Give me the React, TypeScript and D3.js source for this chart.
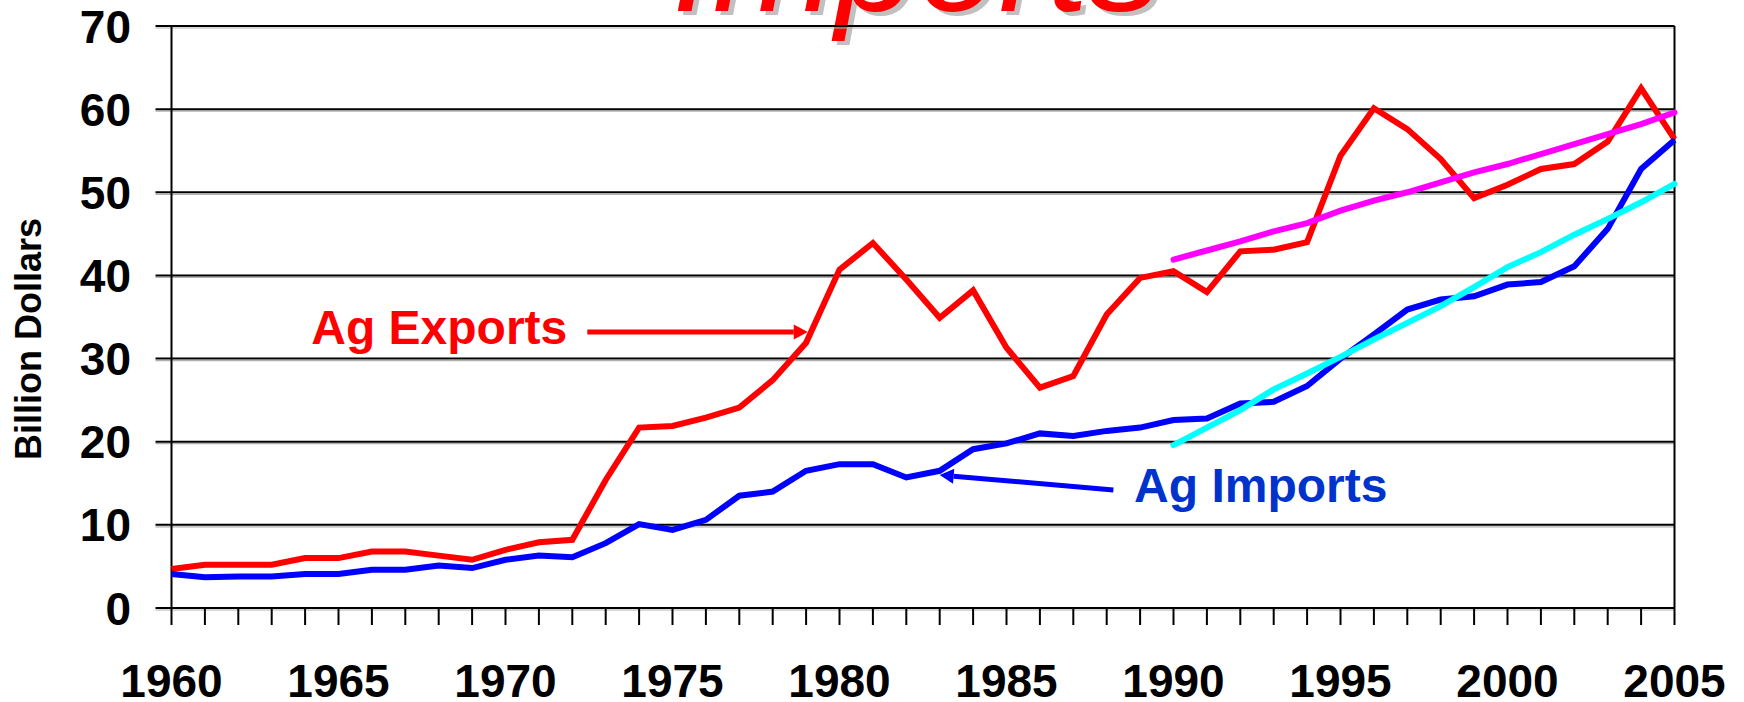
import React, { useEffect, useRef } from 'react'
import { select, scaleLinear, line } from 'd3'

// years on the x axis
const years = [
  1960, 1961, 1962, 1963, 1964, 1965, 1966, 1967, 1968, 1969,
  1970, 1971, 1972, 1973, 1974, 1975, 1976, 1977, 1978, 1979,
  1980, 1981, 1982, 1983, 1984, 1985, 1986, 1987, 1988, 1989,
  1990, 1991, 1992, 1993, 1994, 1995, 1996, 1997, 1998, 1999,
  2000, 2001, 2002, 2003, 2004, 2005,
]
const yearLabels = [1960, 1965, 1970, 1975, 1980, 1985, 1990, 1995, 2000, 2005]
const valueTicks = [0, 10, 20, 30, 40, 50, 60, 70]

// billion dollars
const agExports = [
  4.7, 5.2, 5.2, 5.2, 6.0, 6.0, 6.8, 6.8, 6.3, 5.8,
  7.0, 7.9, 8.2, 15.4, 21.7, 21.9, 22.9, 24.1, 27.4, 31.9,
  40.7, 43.9, 39.5, 34.9, 38.2, 31.3, 26.5, 27.9, 35.3, 39.7,
  40.5, 38.0, 42.9, 43.1, 44.0, 54.4, 60.1, 57.6, 54.0, 49.3,
  50.9, 52.8, 53.4, 56.1, 62.5, 56.4,
]
const agImports = [
  4.1, 3.7, 3.8, 3.8, 4.1, 4.1, 4.6, 4.6, 5.1, 4.8,
  5.8, 6.3, 6.1, 7.8, 10.1, 9.4, 10.6, 13.5, 14.0, 16.5,
  17.3, 17.3, 15.7, 16.5, 19.1, 19.8, 21.0, 20.7, 21.3, 21.7,
  22.6, 22.8, 24.6, 24.8, 26.7, 30.0, 32.9, 35.9, 37.1, 37.5,
  38.9, 39.2, 41.1, 45.6, 52.8, 56.3,
]

// trend lines, 1990-2005
const trendYears = [1990, 1991, 1992, 1993, 1994, 1995, 1996, 1997, 1998, 1999, 2000, 2001, 2002, 2003, 2004, 2005]
const exportTrend = [41.9, 43.0, 44.1, 45.3, 46.3, 47.8, 49.0, 50.0, 51.2, 52.4, 53.4, 54.6, 55.8, 57.0, 58.2, 59.6]
const importTrend = [19.6, 21.7, 23.8, 26.3, 28.2, 30.2, 32.3, 34.3, 36.3, 38.6, 41.0, 42.8, 44.9, 46.8, 48.8, 51.0]

// callouts: label anchor, arrow tail, arrow tip (year, value)
const exportNote = { text: 'Ag Exports', label: [1971.85, 31.7], tail: [1972.45, 33.2], tip: [1979.05, 33.2] }
const importNote = { text: 'Ag Imports', label: [1988.82, 12.75], tail: [1988.2, 14.2], tip: [1983.0, 16.0] }

const W = 1744
const H = 702
const FONT = "'Liberation Sans', Arial, Helvetica, sans-serif"

const App = () => {
  const svgRef = useRef(null)

  useEffect(() => {
    const svg = select(svgRef.current)
    svg.selectAll('*').remove()

    const x = scaleLinear().domain([1960, 2005]).range([171.5, 1674.5])
    const y = scaleLinear().domain([0, 70]).range([608, 26])
    const x0 = x(1960)
    const x1 = x(2005)

    // title (only the bottom of it shows)
    const title = svg.append('g')
    title.append('text')
      .attr('x', 677).attr('y', 15)
      .attr('fill', '#c0c0c0')
      .style('font', `italic 147px ${FONT}`)
      .text('Imports')
    title.append('text')
      .attr('x', 672).attr('y', 11)
      .attr('fill', '#ff0000')
      .style('font', `italic 147px ${FONT}`)
      .text('Imports')

    // grid
    const grid = svg.append('g')
    valueTicks.forEach(v => {
      grid.append('line')
        .attr('x1', x0 - 16).attr('x2', x1)
        .attr('y1', y(v) + 2).attr('y2', y(v) + 2)
        .attr('stroke', '#b0b0b0').attr('stroke-width', 1.2)
      grid.append('line')
        .attr('x1', x0 - 16).attr('x2', x1)
        .attr('y1', y(v)).attr('y2', y(v))
        .attr('stroke', '#000').attr('stroke-width', 2)
      grid.append('text')
        .attr('x', 131).attr('y', y(v) + 16.5)
        .attr('text-anchor', 'end')
        .style('font', `bold 46px ${FONT}`)
        .text(v)
    })

    // axes + frame
    grid.append('line')
      .attr('x1', x0).attr('x2', x0).attr('y1', y(70)).attr('y2', y(0))
      .attr('stroke', '#000').attr('stroke-width', 2)
    grid.append('line')
      .attr('x1', x1).attr('x2', x1).attr('y1', y(70)).attr('y2', y(0))
      .attr('stroke', '#000').attr('stroke-width', 2)
    years.forEach(yr => {
      grid.append('line')
        .attr('x1', x(yr)).attr('x2', x(yr)).attr('y1', y(0)).attr('y2', y(0) + 17)
        .attr('stroke', '#000').attr('stroke-width', 2)
    })
    yearLabels.forEach(yr => {
      grid.append('text')
        .attr('x', x(yr)).attr('y', 697)
        .attr('text-anchor', 'middle')
        .style('font', `bold 46px ${FONT}`)
        .text(yr)
    })

    svg.append('text')
      .attr('transform', 'translate(41,339) rotate(-90)')
      .attr('text-anchor', 'middle')
      .style('font', `bold 36px ${FONT}`)
      .text('Billion Dollars')

    // series
    const lineGen = line().x(d => x(d[0])).y(d => y(d[1]))
    const series = [
      { data: years.map((yr, i) => [yr, agExports[i]]), color: '#ff0000', cap: 'butt' },
      { data: years.map((yr, i) => [yr, agImports[i]]), color: '#0000ff', cap: 'butt' },
      { data: trendYears.map((yr, i) => [yr, exportTrend[i]]), color: '#ff00ff', cap: 'round' },
      { data: trendYears.map((yr, i) => [yr, importTrend[i]]), color: '#00ffff', cap: 'round' },
    ]
    series.forEach(s => {
      svg.append('path')
        .attr('d', lineGen(s.data))
        .attr('fill', 'none')
        .attr('stroke', s.color)
        .attr('stroke-width', 6)
        .attr('stroke-linejoin', 'miter')
        .attr('stroke-linecap', s.cap)
    })

    // callouts
    const arrow = (note, color, textColor, anchor) => {
      const [tx, ty] = [x(note.tip[0]), y(note.tip[1])]
      const [sx, sy] = [x(note.tail[0]), y(note.tail[1])]
      const ang = Math.atan2(ty - sy, tx - sx)
      const len = 14
      const bx = tx - len * Math.cos(ang)
      const by = ty - len * Math.sin(ang)
      const nx = -Math.sin(ang) * 7.5
      const ny = Math.cos(ang) * 7.5
      svg.append('line')
        .attr('x1', sx).attr('y1', sy).attr('x2', bx).attr('y2', by)
        .attr('stroke', color).attr('stroke-width', 5)
      svg.append('polygon')
        .attr('points', `${tx},${ty} ${bx + nx},${by + ny} ${bx - nx},${by - ny}`)
        .attr('fill', color)
      svg.append('text')
        .attr('x', x(note.label[0])).attr('y', y(note.label[1]))
        .attr('text-anchor', anchor)
        .attr('fill', textColor)
        .style('font', `bold 48px ${FONT}`)
        .text(note.text)
    }
    arrow(exportNote, '#ff0000', '#ff0000', 'end')
    arrow(importNote, '#0000ff', '#0033cc', 'start')
  }, [])

  return (
    <svg ref={svgRef} width={W} height={H}
      style={{ position: 'absolute', left: 0, top: 0, background: '#fff' }} />
  )
}

export default App
